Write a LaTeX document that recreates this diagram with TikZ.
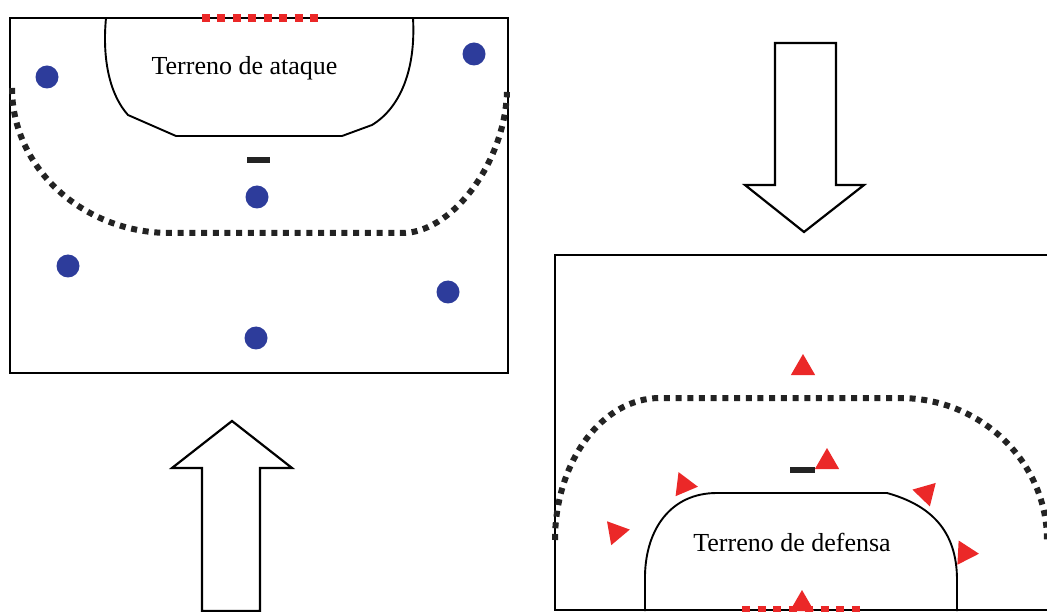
\documentclass[tikz,border=0pt]{standalone}
\usepackage{fontspec}
\setmainfont{Liberation Serif}
\usetikzlibrary{shapes.geometric}
\definecolor{pblue}{RGB}{45,60,155}
\definecolor{pred}{RGB}{235,40,40}
\definecolor{pdark}{RGB}{35,35,35}
\begin{document}
\begin{tikzpicture}[x=1pt,y=-1pt,line join=miter,
  courtline/.style={draw=black,line width=2.3pt},
  zoneline/.style={draw=black,line width=1.9pt},
  dotline/.style={draw=pdark,line width=6pt,dash pattern=on 6pt off 5.7pt},
  goalline/.style={draw=pred,line width=8pt},
  attacker/.style={circle,fill=pblue,minimum size=23pt,inner sep=0pt},
  defender/.style={regular polygon,regular polygon sides=3,fill=pred,minimum size=28pt,inner sep=0pt},
  bigarrow/.style={draw=black,line width=2.2pt,fill=white},
  zonetext/.style={font=\fontsize{26}{30}\selectfont,anchor=base,inner sep=0pt},
  ballbar/.style={draw=pdark,line width=5.5pt}]
\useasboundingbox (0,0) rectangle (1047,612);
\fill[white] (0,0) rectangle (1047,612);

% ---------- left court (attack) ----------
\draw[courtline] (10,18) rectangle (508,373);
\draw[zoneline] (106,18) .. controls (102,60) and (110,95) .. (128,115)
  -- (176,136) -- (342,136) -- (372,125)
  .. controls (400,108) and (416,70) .. (413,18);
\draw[goalline,dash pattern=on 8pt off 7.43pt] (202,18) -- (318,18);
\node[zonetext] (ta) at (244.5,75) {Terreno de ataque};
\draw[dotline] (12,88) .. controls (12,168) and (83,233) .. (170,233)
  -- (405,233) .. controls (455,230) and (505,160) .. (507,92);
\coordinate (barL1) at (247,160);
\coordinate (barL2) at (270,160);
\draw[ballbar] (barL1) -- (barL2);
\node[attacker] (a1) at (47,77) {};
\node[attacker] (a2) at (474,54) {};
\node[attacker] (a3) at (257,197) {};
\node[attacker] (a4) at (68,266) {};
\node[attacker] (a5) at (448,292) {};
\node[attacker] (a6) at (256,338) {};

% ---------- arrows ----------
\draw[bigarrow] (202,611) -- (202,468) -- (172,468) -- (232,421) -- (292,468)
  -- (260,468) -- (260,611) -- cycle;
\draw[bigarrow] (775,43) -- (836,43) -- (836,185) -- (864,185) -- (804,232)
  -- (745,185) -- (775,185) -- cycle;

% ---------- right court (defence) ----------
\draw[courtline] (1050,255) -- (555,255) -- (555,610) -- (1050,610);
\draw[zoneline] (645,611) -- (645,575) .. controls (646,530) and (670,493) .. (717,493)
  -- (887,493) .. controls (930,505) and (957,530) .. (957,580) -- (957,611);
\draw[goalline,dash pattern=on 8pt off 7.7pt] (742,610) -- (860,610);
\node[zonetext] (td) at (792,551) {Terreno de defensa};
\draw[dotline] (555,540) .. controls (555,462) and (602,398) .. (660,398)
  -- (900,398) .. controls (981,398) and (1047,462) .. (1047,540);
\coordinate (barR1) at (790,470);
\coordinate (barR2) at (815,470);
\draw[ballbar] (barR1) -- (barR2);
\node[defender] (d1) at (803,368) {};
\node[defender] (d2) at (827,462) {};
\node[defender,rotate=-97] (d3) at (684,485) {};
\node[defender,rotate=-80] (d4) at (616,532) {};
\node[defender,rotate=-44] (d5) at (926,493) {};
\node[defender,rotate=-93] (d6) at (965,553) {};
\node[defender] (d7) at (802,604) {};
\end{tikzpicture}
\end{document}
